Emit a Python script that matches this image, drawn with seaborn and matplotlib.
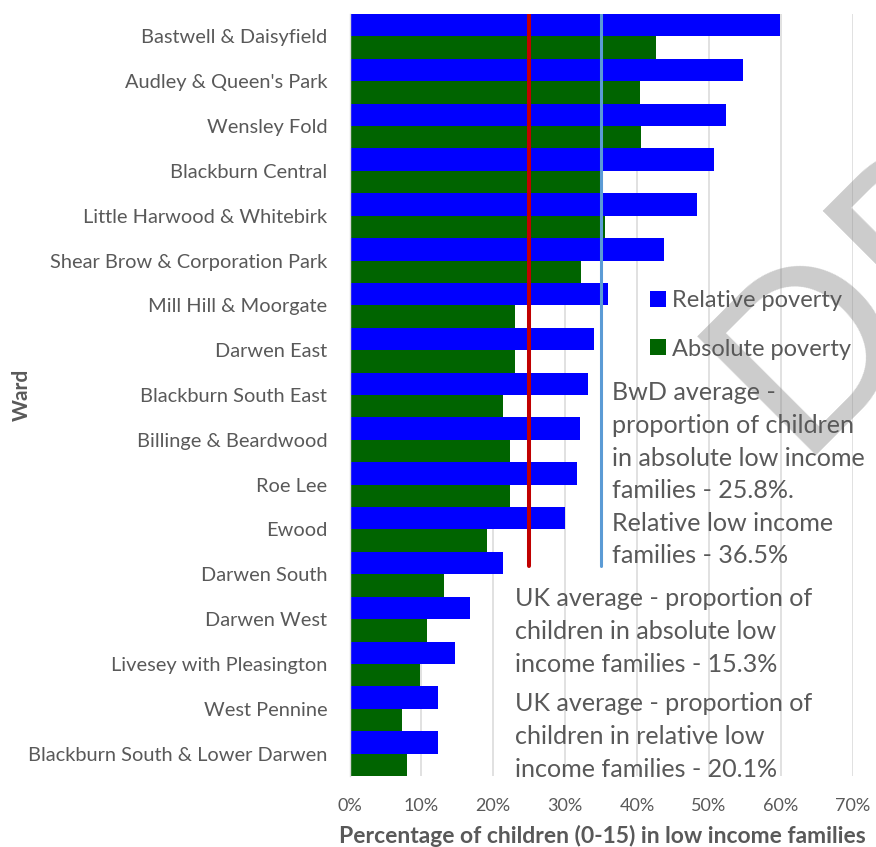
import matplotlib
matplotlib.use("Agg")
import matplotlib.pyplot as plt
import seaborn as sns
import pandas as pd

# ---------------- data ----------------
wards = [
    "Bastwell & Daisyfield", "Audley & Queen's Park", "Wensley Fold",
    "Blackburn Central", "Little Harwood & Whitebirk",
    "Shear Brow & Corporation Park", "Mill Hill & Moorgate", "Darwen East",
    "Blackburn South East", "Billinge & Beardwood", "Roe Lee", "Ewood",
    "Darwen South", "Darwen West", "Livesey with Pleasington",
    "West Pennine", "Blackburn South & Lower Darwen",
]
relative = [59.9, 54.7, 52.4, 50.7, 48.4, 43.7, 36.0, 34.0, 33.2, 32.1,
            31.7, 30.0, 21.3, 16.7, 14.7, 12.3, 12.3]
absolute = [42.7, 40.4, 40.6, 34.8, 35.6, 32.2, 23.0, 23.0, 21.4, 22.3,
            22.3, 19.2, 13.2, 10.8, 9.8, 7.3, 8.0]
series = ["Relative poverty", "Absolute poverty"]
series_colors = ["#0000FF", "#006400"]
ref_lines = [25.0, 35.0]          # drawn average markers (%)
ref_colors = ["#C00000", "#5B9BD5"]
xticks = [0, 10, 20, 30, 40, 50, 60, 70]
xtick_labels = ["0%", "10%", "20%", "30%", "40%", "50%", "60%", "70%"]

bwd_note = ["BwD average -", "proportion of children", "in absolute low income",
            "families - 25.8%.", "Relative low income", "families - 36.5%"]
uk_note_abs = ["UK average - proportion of", "children in absolute low",
               "income families - 15.3%"]
uk_note_rel = ["UK average - proportion of", "children in relative low",
               "income families - 20.1%"]

df = pd.DataFrame({
    "Ward": wards * 2,
    "Value": relative + absolute,
    "Series": [series[0]] * len(wards) + [series[1]] * len(wards),
})

# ---------------- style ----------------
sns.set_style("white")
FONT = ["Lato", "DejaVu Sans"]
plt.rcParams["font.family"] = FONT
GREY = "#595959"

W, H = 876, 847
fig = plt.figure(figsize=(W / 100, H / 100), dpi=100)
L, R, T, B = 349.5, 852.5, 14, 776
ax = fig.add_axes([L / W, 1 - B / H, (R - L) / W, (B - T) / H])
ax.set_facecolor("none")

sns.barplot(data=df, y="Ward", x="Value", hue="Series", hue_order=series,
            palette=series_colors, orient="h", width=1.0, gap=0,
            saturation=1, errorbar=None, linewidth=0, ax=ax)

ax.set_xlim(0, 70)
ax.set_ylim(len(wards) - 0.5, -0.5)
ax.set_xticks(xticks)
ax.set_xticklabels(xtick_labels)
ax.grid(axis="x", color="#D9D9D9", linewidth=1.1)
ax.grid(axis="y", visible=False)
ax.set_axisbelow(True)
for s in ["top", "right", "bottom"]:
    ax.spines[s].set_visible(False)
ax.spines["left"].set_color("#D9D9D9")
ax.spines["left"].set_linewidth(1.0)

ax.tick_params(axis="y", length=0, pad=16, labelsize=14.4, labelcolor=GREY)
ax.tick_params(axis="x", length=0, pad=16, labelsize=13, labelcolor=GREY)

ax.set_xlabel("Percentage of children (0-15) in low income families",
              fontsize=16.5, fontweight="bold", color=GREY)
ax.xaxis.label.set_va("center")
ax.xaxis.set_label_coords((602 - L) / (R - L), -(836 - B) / (B - T))
ax.set_ylabel("Ward", fontsize=15, fontweight="bold", color=GREY)
ax.yaxis.label.set_va("center")
ax.yaxis.set_label_coords((22 - L) / (R - L), 0.5)

# average reference lines
ymin = (B - 566) / (B - T)
for v, c, lw in zip(ref_lines, ref_colors, [2.9, 2.2]):
    ax.axvline(v, ymin=ymin, ymax=1, color=c, linewidth=lw, zorder=3)

# legend
handles, labels = ax.get_legend_handles_labels()
leg = ax.legend(handles, labels, loc="center left",
                bbox_to_anchor=(650 / W, 1 - 325 / H),
                bbox_transform=fig.transFigure, frameon=False,
                fontsize=17, handlelength=0.68, handleheight=0.68,
                handletextpad=0.25, labelspacing=1.15, borderpad=0,
                borderaxespad=0)
for t in leg.get_texts():
    t.set_color(GREY)
leg.set_zorder(6)

# watermark
ax.text(795 / W, 1 - 456 / H, "DRAFT", transform=fig.transFigure,
        rotation=45, rotation_mode="anchor", ha="left", va="baseline",
        fontsize=169, color="#7F7F7F", alpha=0.4, zorder=2, clip_on=False)

# notes
def put_lines(lines, x, baselines):
    for line, yb in zip(lines, baselines):
        ax.text(x / W, 1 - yb / H, line, transform=fig.transFigure,
                ha="left", va="baseline", fontsize=18.1, color=GREY,
                zorder=7, clip_on=False)

put_lines(bwd_note, 612, [400, 433, 466, 498, 531, 563])
put_lines(uk_note_abs, 515, [606, 639, 672])
put_lines(uk_note_rel, 515, [711, 744, 777])

fig.savefig("out.png", dpi=100)
